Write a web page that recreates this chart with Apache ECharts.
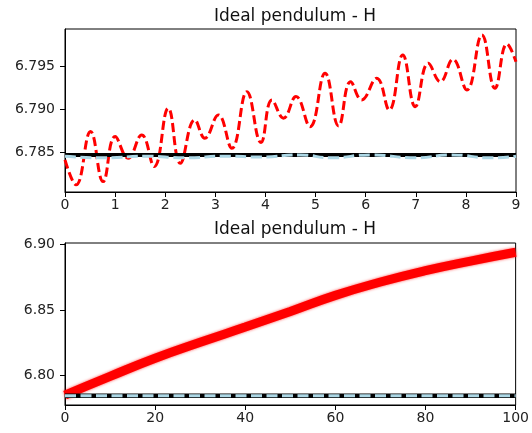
<!DOCTYPE html>
<html>
<head>
<meta charset="utf-8">
<script src="https://cdn.jsdelivr.net/npm/echarts@6/dist/echarts.min.js"></script>
<style>
  html, body { margin: 0; padding: 0; background: #fff; }
  #chart { width: 532px; height: 433px; }
</style>
</head>
<body>
<div id="chart"></div>
<script>
// top panel (t = 0..9), red = numeric H, black = exact H, lightblue = other integrator
var topRedX = [0, 0.22, 0.51, 0.76, 1.0, 1.26, 1.53, 1.78, 2.06, 2.30, 2.59, 2.79, 3.06, 3.33, 3.63, 3.91,
  4.13, 4.36, 4.61, 4.89, 5.19, 5.46, 5.70, 5.92, 6.22, 6.47, 6.74, 6.99, 7.25, 7.49, 7.74, 8.02, 8.32, 8.58, 8.82, 9.0];
var topRedY = [6.78406, 6.78114, 6.78738, 6.78152, 6.78679, 6.78426, 6.78699, 6.78328, 6.79012, 6.78367, 6.78875, 6.78660, 6.78933, 6.78543, 6.79206, 6.78610,
  6.79109, 6.78895, 6.79148, 6.78796, 6.79422, 6.78804, 6.79323, 6.79109, 6.79363, 6.78992, 6.79636, 6.79030, 6.79539, 6.79323, 6.79585, 6.79226, 6.79870, 6.79246, 6.79765, 6.79557];
var topBlueX = [0, 0.8, 1.6, 2.4, 3.2, 3.9, 4.7, 5.3, 6.1, 7.0, 7.7, 8.5, 9];
var topBlueY = [6.7845, 6.7843, 6.7845, 6.7843, 6.7845, 6.7844, 6.78465, 6.7843, 6.78465, 6.7843, 6.78465, 6.7843, 6.7845];
var exactH = 6.78465;

// bottom panel (t = 0..100)
var botRedX = [0, 10, 20, 30, 40, 50, 60, 70, 80, 90, 100];
var botRedY = [6.7852, 6.7995, 6.8133, 6.8255, 6.8371, 6.8490, 6.8613, 6.8715, 6.8802, 6.8875, 6.8942];
var botBlueX = [0, 100];
var botBlueY = [6.7846, 6.7846];

var topYTicks = [6.785, 6.790, 6.795];
var botYTicks = [6.80, 6.85, 6.90];

function pairs(xs, ys) {
  return xs.map(function (x, i) { return [x, ys[i]]; });
}

var font = 'DejaVu Sans';
function xAxisOpt(idx, max, interval) {
  return {
    type: 'value', gridIndex: idx, min: 0, max: max, interval: interval,
    axisLine: { show: true, onZero: false, lineStyle: { color: '#000', width: 1 } },
    axisTick: { show: true, length: 5, lineStyle: { color: '#000' } },
    axisLabel: { color: '#222', fontFamily: font, fontSize: 14, margin: 6 },
    splitLine: { show: false }
  };
}
function yAxisOpt(idx, min, max, ticks, dec) {
  return {
    type: 'value', gridIndex: idx, min: min, max: max,
    axisLine: { show: true, onZero: false, lineStyle: { color: '#000', width: 1 } },
    axisTick: { show: true, length: 5, customValues: ticks, lineStyle: { color: '#000' } },
    axisLabel: { color: '#222', fontFamily: font, fontSize: 14, margin: 10, customValues: ticks,
      formatter: function (v) { return v.toFixed(dec); } },
    splitLine: { show: false }
  };
}

var titleStyle = { fontFamily: font, fontSize: 17, fontWeight: 'normal', color: '#111' };

var chart = echarts.init(document.getElementById('chart'), null, { renderer: 'canvas' });
chart.setOption({
  animation: false,
  backgroundColor: '#fff',
  title: [
    { text: 'Ideal pendulum - H', left: 290, top: 3, textAlign: 'center', textStyle: titleStyle },
    { text: 'Ideal pendulum - H', left: 290, top: 216, textAlign: 'center', textStyle: titleStyle }
  ],
  grid: [
    { left: 65, top: 29, width: 451, height: 163, show: true, borderColor: '#000', borderWidth: 1, backgroundColor: 'transparent' },
    { left: 65, top: 243, width: 451, height: 162, show: true, borderColor: '#000', borderWidth: 1, backgroundColor: 'transparent' }
  ],
  xAxis: [xAxisOpt(0, 9, 1), xAxisOpt(1, 100, 20)],
  yAxis: [yAxisOpt(0, 6.7803, 6.7994, topYTicks, 3), yAxisOpt(1, 6.7776, 6.9013, botYTicks, 2)],
  series: [
    { type: 'line', xAxisIndex: 0, yAxisIndex: 0, data: pairs(topRedX, topRedY), smooth: 0.45, showSymbol: false,
      lineStyle: { color: '#ff0000', width: 3, type: [9, 4] } },
    { type: 'line', xAxisIndex: 0, yAxisIndex: 0, data: [[0, exactH], [9, exactH]], showSymbol: false,
      lineStyle: { color: '#000', width: 4 } },
    { type: 'line', xAxisIndex: 0, yAxisIndex: 0, data: pairs(topBlueX, topBlueY), smooth: true, showSymbol: false,
      lineStyle: { color: '#add8e6', width: 3, type: [11, 4.5] } },
    { type: 'line', xAxisIndex: 1, yAxisIndex: 1, data: pairs(botRedX, botRedY), smooth: true, showSymbol: false,
      lineStyle: { color: '#ff0000', width: 9, shadowColor: 'rgba(255,0,0,0.7)', shadowBlur: 3 } },
    { type: 'line', xAxisIndex: 1, yAxisIndex: 1, data: [[0, exactH], [100, exactH]], showSymbol: false,
      lineStyle: { color: '#000', width: 4.5 } },
    { type: 'line', xAxisIndex: 1, yAxisIndex: 1, data: pairs(botBlueX, botBlueY), showSymbol: false,
      lineStyle: { color: '#add8e6', width: 3, type: [11, 4.5] } }
  ]
});
</script>
</body>
</html>
